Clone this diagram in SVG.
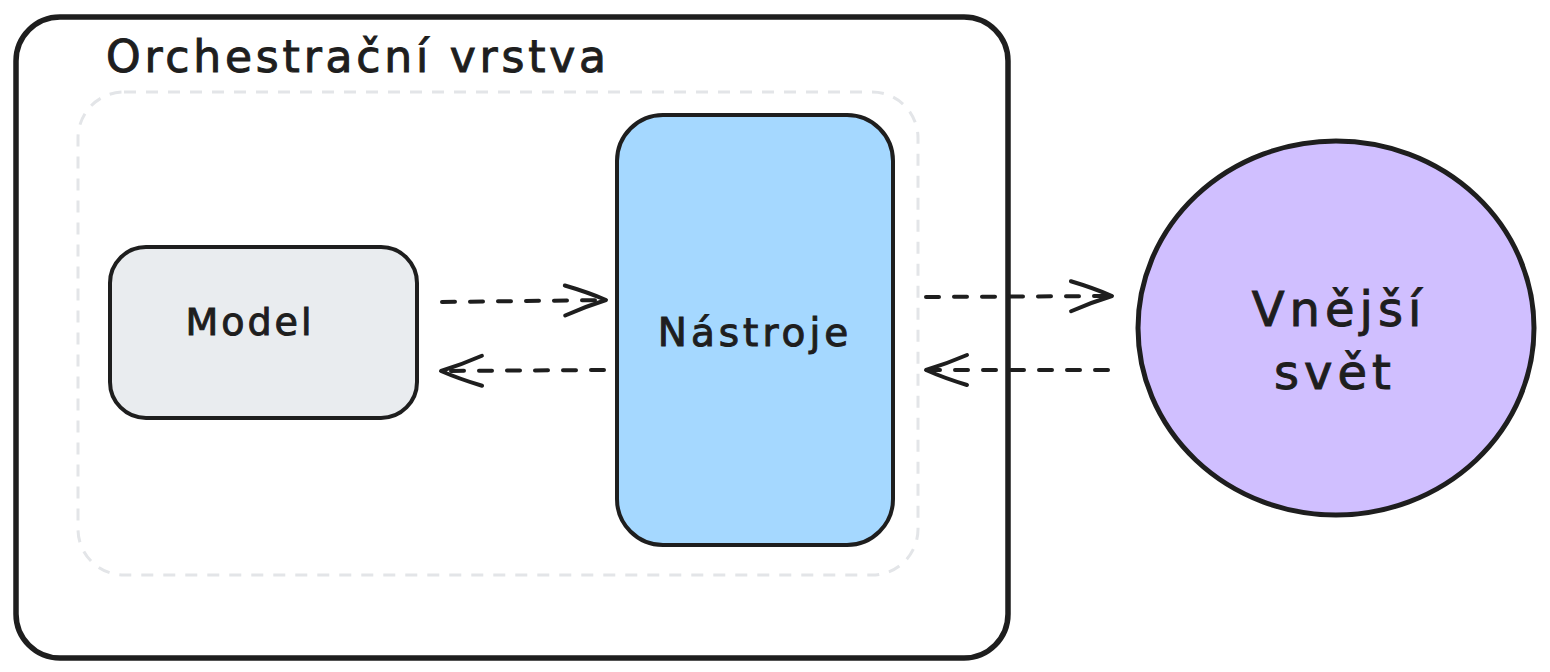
<svg xmlns="http://www.w3.org/2000/svg" width="1550" height="672" viewBox="0 0 1550 672">
  <style>
    .lbl { font-family: "DejaVu Sans", "Liberation Sans", sans-serif; fill: #1e1e1e; stroke: #1e1e1e; stroke-width: 1; }
    .box { stroke: #1e1e1e; stroke-width: 4; }
    .conn { fill: none; stroke: #1e1e1e; stroke-width: 4; stroke-dasharray: 13 15; stroke-linecap: round; }
  </style>
  <defs>
    <marker id="arrow" markerUnits="userSpaceOnUse" markerWidth="50" markerHeight="40" viewBox="0 0 50 40" refX="46" refY="20" orient="auto">
      <path d="M5,5 Q28,12 46,20 Q26,26 5,35" fill="none" stroke="#1e1e1e" stroke-width="4" stroke-linecap="round" stroke-linejoin="round"/>
    </marker>
  </defs>
  <rect width="1550" height="672" fill="#ffffff"/>

  <g id="orchestration-layer">
    <rect x="16" y="17" width="992" height="641" rx="44" fill="#ffffff" stroke="#1e1e1e" stroke-width="5.5"/>
    <text class="lbl" x="106" y="72" font-size="44" textLength="500" lengthAdjust="spacing">Orchestrační vrstva</text>
  </g>

  <g id="inner-zone">
    <rect x="78" y="92" width="840" height="483" rx="46" fill="none" stroke="#e3e5e8" stroke-width="3" stroke-dasharray="12 10"/>
  </g>

  <g id="model">
    <rect class="box" x="110" y="247" width="307" height="171" rx="36" fill="#e9ecef"/>
    <text class="lbl" x="250" y="335" font-size="38" text-anchor="middle" letter-spacing="3">Model</text>
  </g>

  <g id="nastroje">
    <rect class="box" x="617" y="115" width="276" height="430" rx="46" fill="#a5d8ff"/>
    <text class="lbl" x="755" y="346" font-size="39" text-anchor="middle" letter-spacing="4">Nástroje</text>
  </g>

  <g id="vnejsi-svet">
    <ellipse cx="1336" cy="328" rx="198" ry="187" fill="#d0bfff" stroke="#1e1e1e" stroke-width="5"/>
    <text class="lbl" x="1339" y="326" font-size="48" text-anchor="middle" letter-spacing="5">Vnější</text>
    <text class="lbl" x="1335" y="389" font-size="48" text-anchor="middle" letter-spacing="5">svět</text>
  </g>

  <g id="connectors">
    <path class="conn" d="M442,302 L606,300" marker-end="url(#arrow)"/>
    <path class="conn" d="M604,370 L441,371" marker-end="url(#arrow)"/>
    <path class="conn" d="M926,297 L1112,296" marker-end="url(#arrow)"/>
    <path class="conn" d="M1108,370 L926,370" marker-end="url(#arrow)"/>
  </g>
</svg>
